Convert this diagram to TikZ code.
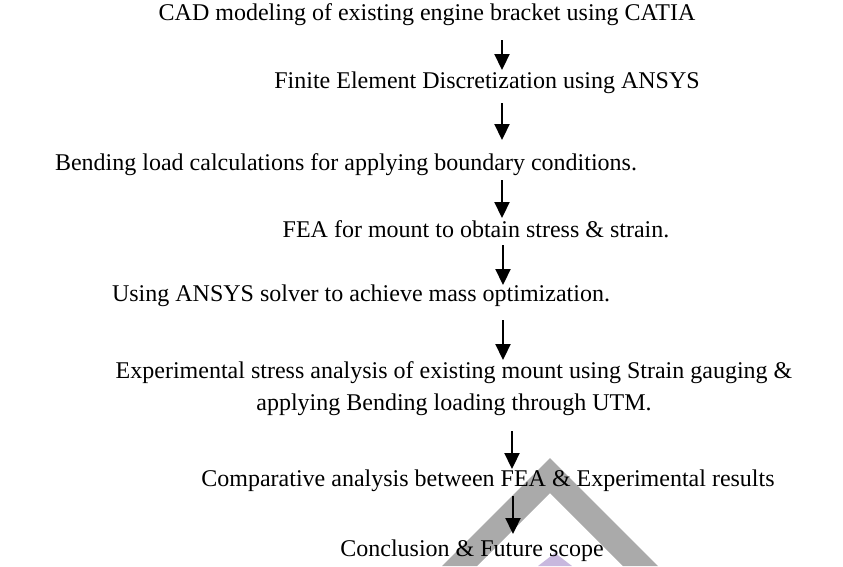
\documentclass[tikz,border=0pt]{standalone}
\usepackage{fontspec}
\setmainfont{Liberation Serif}
\usetikzlibrary{arrows.meta}
\definecolor{wmgray}{RGB}{170,170,170}
\definecolor{wmpurple}{RGB}{200,184,222}
\begin{document}
\begin{tikzpicture}[x=1pt,y=-1pt,
  txt/.style={anchor=base, inner sep=0pt, font=\fontsize{24}{32}\selectfont},
  flow/.style={-{Triangle[length=16pt,width=15pt]}, line width=2.2pt}]
\useasboundingbox (0,0) rectangle (843,566);
% watermark
\fill[wmgray] (442,566) -- (550,458) -- (658,566) -- (623,566) -- (550,493) -- (477,566) -- cycle;
\fill[wmpurple] (538,566) -- (555,553) -- (572,566) -- cycle;
% texts
\node[txt] (l1) at (427,20) {CAD modeling of existing engine bracket using CATIA};
\node[txt] (l2) at (487,88) {Finite Element Discretization using ANSYS};
\node[txt] (l3) at (346,170) {Bending load calculations for applying boundary conditions.};
\node[txt] (l4) at (476,237) {FEA for mount to obtain stress \& strain.};
\node[txt] (l5) at (361,301) {Using ANSYS solver to achieve mass optimization.};
\node[txt] (l6a) at (454,378) {Experimental stress analysis of existing mount using Strain gauging \&};
\node[txt] (l6b) at (454,410) {applying Bending loading through UTM.};
\node[txt] (l7) at (488,486) {Comparative analysis between FEA \& Experimental results};
\node[txt] (l8) at (472,556) {Conclusion \& Future scope};
% arrow ends
\coordinate (a1s) at (502,40);  \coordinate (a1e) at (502,70);
\coordinate (a2s) at (502,103); \coordinate (a2e) at (502,140);
\coordinate (a3s) at (502,180); \coordinate (a3e) at (502,218);
\coordinate (a4s) at (503,245); \coordinate (a4e) at (503,285);
\coordinate (a5s) at (503,320); \coordinate (a5e) at (503,360);
\coordinate (a6s) at (512,431); \coordinate (a6e) at (512,469);
\coordinate (a7s) at (513,496); \coordinate (a7e) at (513,534);
\foreach \i in {1,...,7} \draw[flow] (a\i s) -- (a\i e);
\end{tikzpicture}
\end{document}
